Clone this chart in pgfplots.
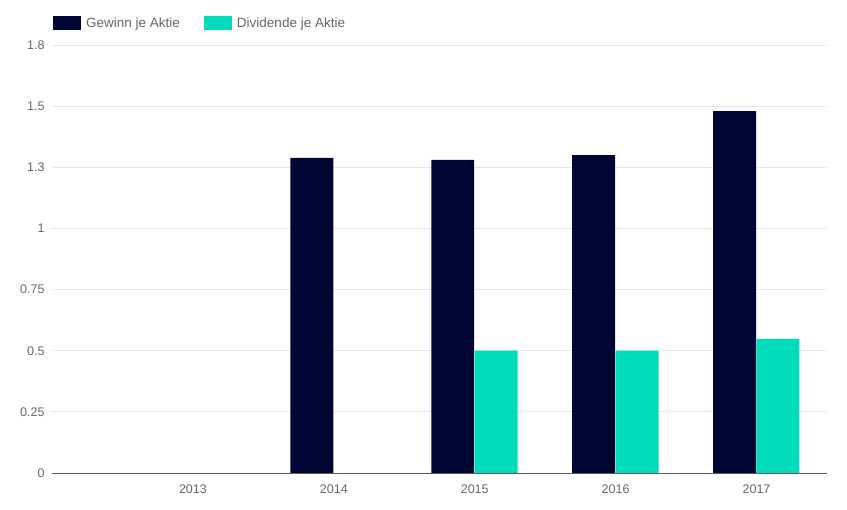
\documentclass[border=0pt]{standalone}
\usepackage{fontspec}
\setmainfont{Liberation Sans}
\usepackage{pgfplots}
\pgfplotsset{compat=1.18}
\definecolor{navy}{HTML}{000634}
\definecolor{teal}{HTML}{00DBBB}
\definecolor{lbl}{HTML}{666666}
\definecolor{gridc}{HTML}{E6E6E6}
\begin{document}
\begin{tikzpicture}[x=1pt,y=1pt]
\path[use as bounding box] (0,0) rectangle (847,510);
\begin{axis}[
  at={(52pt,37pt)}, anchor=south west,
  scale only axis, width=775pt, height=428pt,
  xmin=-1, xmax=4.5, ymin=0, ymax=1.75,
  axis x line*=bottom, axis y line*=left,
  y axis line style={draw=none},
  x axis line style={draw=lbl!90!black, line width=0.8pt},
  xtick={0,1,2,3,4}, xticklabels={2013,2014,2015,2016,2017},
  ytick={0,0.25,0.5,0.75,1,1.25,1.5,1.75},
  yticklabels={0,0.25,0.5,0.75,1,1.3,1.5,1.8},
  major tick length=0pt,
  ymajorgrids, grid style={gridc, line width=0.8pt},
  tick label style={font=\fontsize{12.5}{14}\selectfont, text=lbl},
  /pgf/number format/assume math mode=true,
  yticklabel style={xshift=-4pt},
  xticklabel style={yshift=-8pt},
  bar width=0.305,
  legend style={at={(0,1)}, anchor=south west, xshift=-2pt, yshift=12pt, draw=none, fill=none,
    legend columns=2, font=\fontsize{13.5}{15}\selectfont, text=lbl,
    /tikz/every even column/.append style={column sep=22pt}},
  legend image code/.code={\fill[#1] (0pt,-7pt) rectangle (28pt,7pt); \path (31pt,0pt);},
]
\addplot[ybar, fill=navy, draw=none, bar shift=-0.156] coordinates {(1,1.288) (2,1.280) (3,1.300) (4,1.480)};
\addlegendentry{Gewinn je Aktie}
\addplot[ybar, fill=teal, draw=none, bar shift=0.152] coordinates {(2,0.5) (3,0.5) (4,0.548)};
\addlegendentry{Dividende je Aktie}
\end{axis}
\end{tikzpicture}
\end{document}
